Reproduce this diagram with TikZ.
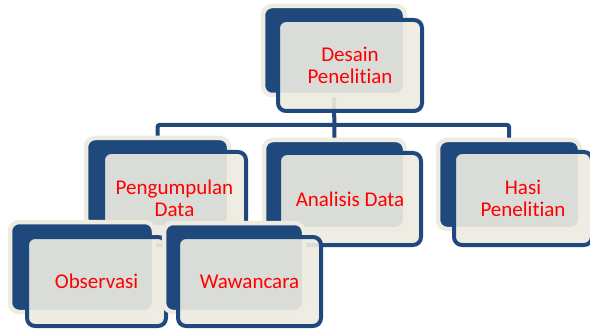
\documentclass[tikz,border=0pt]{standalone}
\usepackage{fontspec}
\setmainfont{Carlito}[Ligatures={NoCommon,NoRequired,NoContextual}]
\definecolor{navy}{HTML}{1F497D}
\definecolor{cream}{HTML}{EEECE1}
\definecolor{labelred}{HTML}{FF0000}
\begin{document}
\begin{tikzpicture}[x=1pt, y=-1pt,
  backbox/.style={draw=cream, line width=4.5pt, fill=navy, rounded corners=9pt,
    anchor=north west, inner sep=0pt, outer sep=0pt},
  frontbox/.style={draw=navy, line width=4pt, fill=cream, fill opacity=0.9,
    text opacity=1, rounded corners=8pt, anchor=north west, inner sep=0pt,
    outer sep=0pt, text=labelred, align=center,
    font=\fontsize{21}{22}\selectfont},
  conn/.style={draw=navy, line width=4pt, rounded corners=2pt}]
\useasboundingbox (0,0) rectangle (590,329);
\clip (0,0) rectangle (590,329);
\fill[white] (0,0) rectangle (590,329);

% back panels (only placed here; drawn later above the connectors)
\path
  node[backbox, draw=none, fill=none, minimum width=142pt, minimum height=89pt] (desainB) at (263,6) {}
  node[backbox, draw=none, fill=none, minimum width=143pt, minimum height=89pt] (pengB) at (86,138) {}
  node[backbox, draw=none, fill=none, minimum width=141pt, minimum height=89pt] (anaB) at (264,140) {}
  node[backbox, draw=none, fill=none, minimum width=142pt, minimum height=89pt] (hasiB) at (438,140) {};
\coordinate (bus) at (0,125);

% connectors of the hierarchy
\draw[conn] (desainB.center) -- (anaB.center);
\draw[conn] (pengB.center) -- (pengB.center |- bus) -- (hasiB.center |- bus) -- (hasiB.center);

% top level
\node[backbox, minimum width=142pt, minimum height=89pt] (desainBk) at (263,6) {};
\node[frontbox, minimum width=144pt, minimum height=91pt] (desainF) at (278,20) {Desain\\Penelitian};

% second level
\node[backbox, minimum width=143pt, minimum height=89pt] (pengBk) at (86,138) {};
\node[frontbox, minimum width=143pt, minimum height=93pt] (pengF) at (103,152) {Pengumpulan\\Data};

\node[backbox, minimum width=141pt, minimum height=89pt] (anaBk) at (264,140) {};
\node[frontbox, minimum width=142pt, minimum height=92pt] (anaF) at (279,153) {Analisis Data};

\node[backbox, minimum width=142pt, minimum height=89pt] (hasiBk) at (438,140) {};
\node[frontbox, minimum width=138pt, minimum height=93pt] (hasiF) at (454,152) {Hasi\\Penelitian};

% third level
\node[backbox, minimum width=144pt, minimum height=90pt] (obsB) at (10,222) {};
\node[frontbox, minimum width=139pt, minimum height=89pt] (obsF) at (27,237) {Observasi};

\node[backbox, minimum width=140pt, minimum height=89pt] (wawB) at (164,223) {};
\node[frontbox, minimum width=143pt, minimum height=89pt] (wawF) at (178,237) {Wawancara};
\end{tikzpicture}
\end{document}
